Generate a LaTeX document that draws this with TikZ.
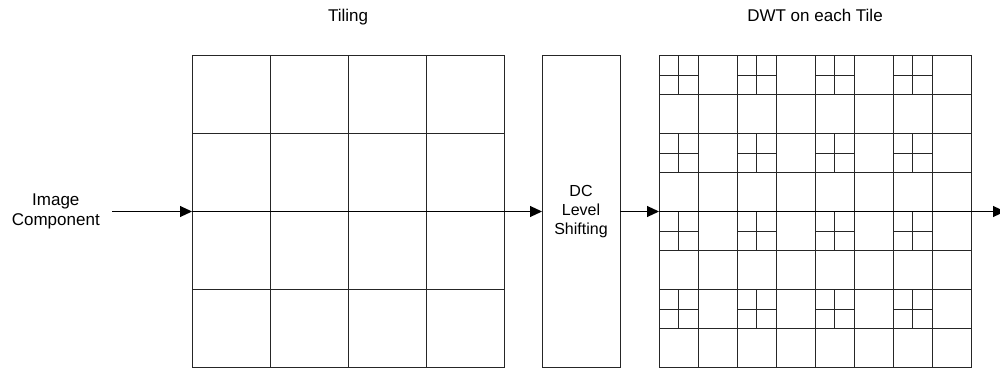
\documentclass[tikz,border=0pt]{standalone}
\usepackage{fontspec}
\setmainfont{Liberation Sans}
\usetikzlibrary{positioning,calc,arrows.meta}
\tikzstyle{every node}=[font=\fontsize{16}{19}\selectfont]
\tikzstyle{gridbox} = [rectangle,draw=black!85,line width=1pt,minimum width=312pt,minimum height=312pt,inner sep=0pt,outer sep=0pt]
\tikzstyle{block} = [gridbox,minimum width=78pt,align=center]
\tikzstyle{cell} = [line width=1pt,draw=black!85]
\tikzstyle{arrow} = [line width=1pt,draw=black,-{Triangle[length=12pt,width=11pt]}]
\tikzstyle{headline} = [inner sep=0pt,text depth=0pt,font=\fontsize{17}{19}\selectfont]

\begin{document}
\begin{tikzpicture}[x=1pt,y=-1pt]
\useasboundingbox (0,0) rectangle (1000,369);

\node (tiling) [gridbox] at (348,211.5) {};
\node (dc) [block, right=38pt of tiling] {DC\\Level\\Shifting};
\node (dwt) [gridbox, right=39pt of dc] {};
\node (input) [text width=112pt,align=center,inner sep=0pt,font=\fontsize{17}{19.5}\selectfont,left=80pt of tiling] {Image\\Component};
\coordinate [right=34pt of dwt] (output);

\node (tilingtitle) [headline, above=34pt of tiling] {Tiling};
\node (dwttitle) [headline, above=34pt of dwt] {DWT on each Tile};

% 4x4 tiles
\foreach \i in {1,2,3} {
  \draw[cell] ($(tiling.north west)+(\i*78,0)$) -- ($(tiling.south west)+(\i*78,0)$);
  \draw[cell] ($(tiling.north west)+(0,\i*78)$) -- ($(tiling.north east)+(0,\i*78)$);
}

% subbands of every tile
\begin{scope}[shift={(dwt.north west)}]
\foreach \i in {1,...,7} {
  \draw[cell] (\i*39,0) -- (\i*39,312);
  \draw[cell] (0,\i*39) -- (312,\i*39);
}
\foreach \i in {0,2,4,6}
  \foreach \j in {0,2,4,6}
    \draw[cell] (\i*39+19.5,\j*39) -- ++(0,39) (\i*39,\j*39+19.5) -- ++(39,0);
\end{scope}

\draw [arrow] (input.east) -- (tiling.west);
\draw [arrow] (tiling.west) -- (dc.west);
\draw [arrow] (dc.east) -- (dwt.west);
\draw [arrow] (dwt.west) -- (output);

\end{tikzpicture}
\end{document}
